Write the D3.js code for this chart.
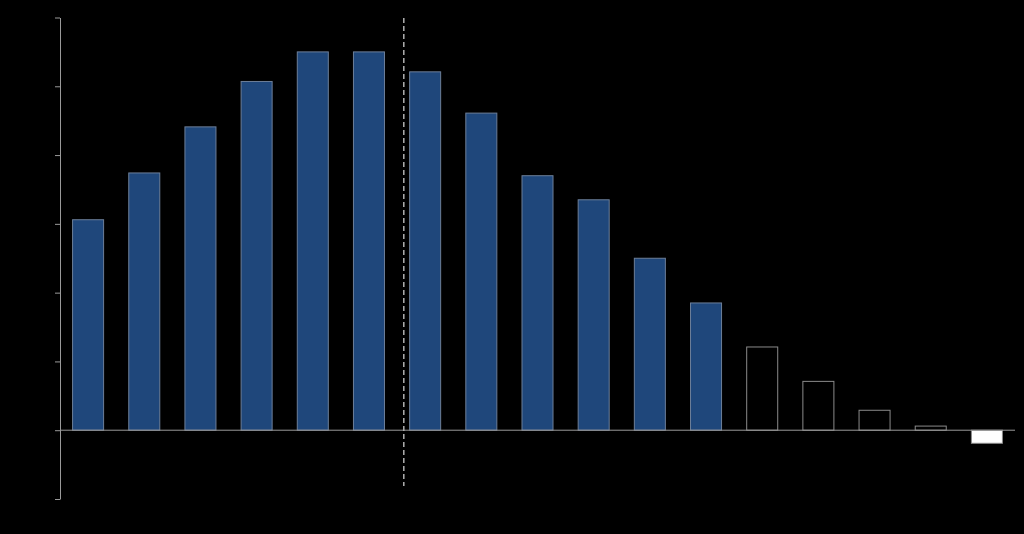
<!DOCTYPE html>
<html>
<head>
<meta charset="utf-8">
<script src="https://cdn.jsdelivr.net/npm/d3@7"></script>
<style>
  html, body { margin: 0; padding: 0; background: #000; }
  svg { display: block; }
</style>
</head>
<body>
<svg id="chart" width="1024" height="534"></svg>
<script>
// Data
const categories = ["1","2","3","4","5","6","7","8","9","10","11","12","13","14","15","16","17"];
const values = [3.06, 3.74, 4.41, 5.07, 5.50, 5.50, 5.21, 4.61, 3.70, 3.35, 2.50, 1.85, 1.21, 0.71, 0.29, 0.06, -0.19];
const barTypes = ["solid","solid","solid","solid","solid","solid","solid","solid","solid","solid","solid","solid","outline","outline","outline","outline","white"];
const yTicks = [-1, 0, 1, 2, 3, 4, 5, 6];
const markerIndex = 5.62; // position of dashed vertical line, in bar-index units

const svg = d3.select("#chart");
const mLeft = 60, mRight = 1015, mTop = 17.5, mBottom = 499;

const x = d3.scaleBand().domain(categories).range([mLeft, mRight])
  .paddingInner(0.43).paddingOuter(0.215);
const y = d3.scaleLinear().domain([-1, 6]).range([mBottom, mTop]);
const xIdx = d3.scaleLinear().domain([0, categories.length - 1])
  .range([x(categories[0]) + x.bandwidth() / 2, x(categories[categories.length - 1]) + x.bandwidth() / 2]);

const styles = {
  solid: { fill: "#1f477b", stroke: "#6d7f99" },
  outline: { fill: "#000000", stroke: "#8a8a8a" },
  white: { fill: "#ffffff", stroke: "#8a8a8a" }
};

// bars
svg.append("g").selectAll("rect").data(values).join("rect")
  .attr("x", (d, i) => x(categories[i]) + 0.5)
  .attr("width", x.bandwidth() - 1)
  .attr("y", d => y(Math.max(0, d)))
  .attr("height", d => Math.abs(y(d) - y(0)))
  .attr("fill", (d, i) => styles[barTypes[i]].fill)
  .attr("stroke", (d, i) => styles[barTypes[i]].stroke)
  .attr("stroke-width", 1);

// zero line
svg.append("line")
  .attr("x1", mLeft).attr("x2", mRight)
  .attr("y1", y(0)).attr("y2", y(0))
  .attr("stroke", "#9a9a9a").attr("stroke-width", 1);

// y axis
const yAxis = d3.axisLeft(y).tickValues(yTicks).tickSize(5).tickSizeOuter(0).tickFormat("");
const gy = svg.append("g").attr("transform", `translate(${mLeft},0)`).call(yAxis);
gy.select(".domain").attr("stroke", "#9a9a9a");
gy.selectAll(".tick line").attr("stroke", "#9a9a9a");

// dashed marker line
svg.append("line")
  .attr("x1", xIdx(markerIndex)).attr("x2", xIdx(markerIndex))
  .attr("y1", 18).attr("y2", 486)
  .attr("stroke", "#b0b0b0").attr("stroke-width", 1.5)
  .attr("stroke-dasharray", "5,3");
</script>
</body>
</html>
